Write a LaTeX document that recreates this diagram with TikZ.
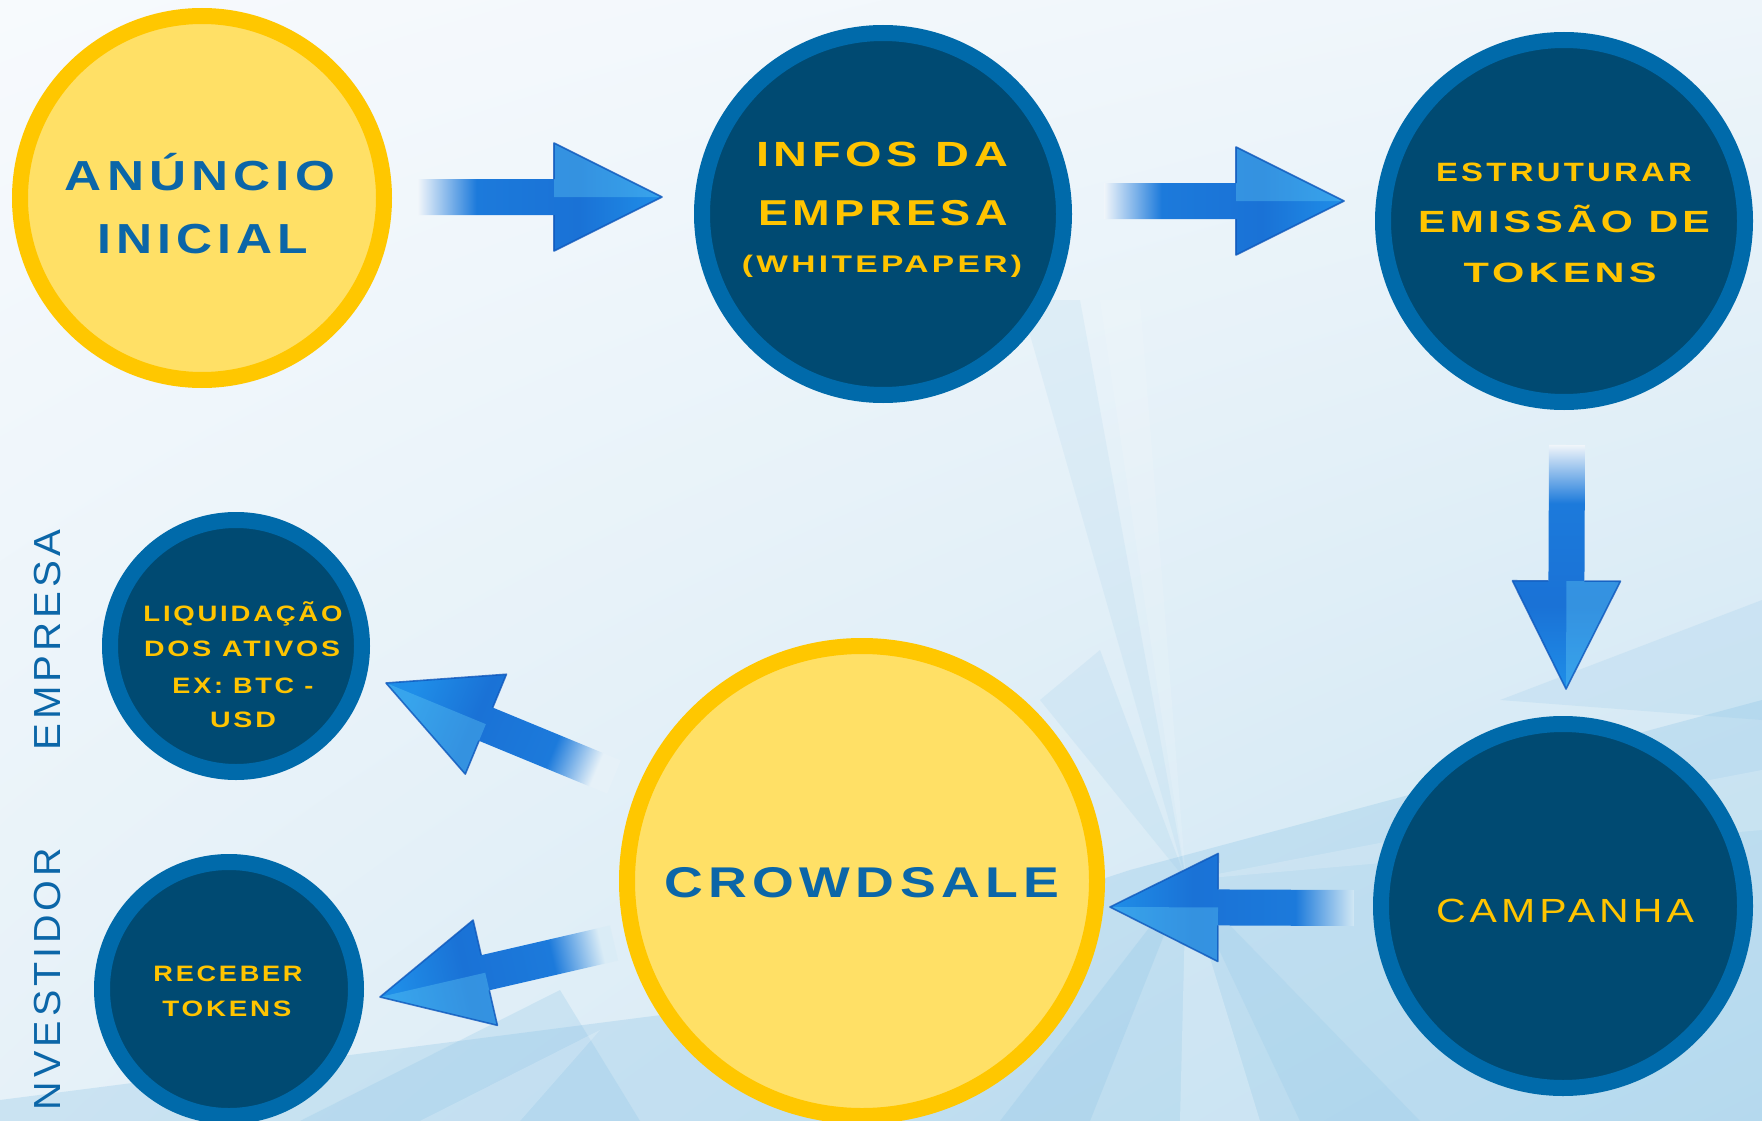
\documentclass[tikz,border=0pt]{standalone}
\usepackage{fontspec}
\usepackage{graphicx}
\usetikzlibrary{calc,shadings}
\newfontfamily\efont{Liberation Sans}[LetterSpace=10]
\definecolor{yfill}{HTML}{FFE066}
\definecolor{yborder}{HTML}{FFC700}
\definecolor{nfill}{HTML}{004A72}
\definecolor{nborder}{HTML}{006AAA}
\definecolor{ytext}{HTML}{FFC400}
\definecolor{btext}{HTML}{0B66A8}
\definecolor{arrA}{HTML}{1C7ADB}
\definecolor{arrB}{HTML}{1A72D6}
\definecolor{arrC}{HTML}{1F8EE8}
\definecolor{arrEdge}{HTML}{0F58BC}
\definecolor{bgA}{HTML}{F0F5FA}
\definecolor{bgB}{HTML}{D2E8F4}
\definecolor{bgC}{HTML}{E6F1F8}
\definecolor{bgD}{HTML}{DAECF6}
\definecolor{bgTL}{HTML}{F7FAFD}
\definecolor{bgTR}{HTML}{EEF5FA}
\definecolor{bgLo}{HTML}{C8E3F2}
\definecolor{facD}{HTML}{8CC4E6}
\colorlet{afade}{white}
\pgfdeclarehorizontalshading[afade]{arrowshade}{100bp}{color(0bp)=(afade); color(25bp)=(afade); color(37bp)=(arrA); color(58bp)=(arrB); color(75bp)=(arrC); color(100bp)=(arrC)}
\newcommand\wl[3]{\resizebox{#1pt}{\height}{\fontsize{#2pt}{#2pt}\selectfont #3}}
\begin{document}
\begin{tikzpicture}[x=1pt,y=1pt,
  ycirc/.style={circle, fill=yfill, draw=yborder, line width=16pt, inner sep=0pt, minimum size=#1},
  ncirc/.style={circle, fill=nfill, draw=nborder, line width=16pt, inner sep=0pt, minimum size=#1},
  ylab/.style={anchor=base, inner sep=0pt, text=ytext, font=\efont\bfseries},
  blab/.style={anchor=base, inner sep=0pt, text=btext, font=\efont\bfseries},
  vlab/.style={anchor=base, inner sep=0pt, text=btext, font=\efont, rotate=90},
  fatarrow/.style={to path={
    let \p1=($(\tikztotarget)-(\tikztostart)$),
        \n1={atan2(\y1,\x1)},
        \n2={veclen(\x1,\y1)-108}
    in ($(\tikztostart)+(\n1+90:18)$)
    -- ($(\tikztostart)+(\n1:\n2)+(\n1+90:18)$)
    -- ($(\tikztostart)+(\n1:\n2)+(\n1+90:54)$)
    -- (\tikztotarget)
    -- ($(\tikztostart)+(\n1:\n2)+(\n1-90:54)$)
    -- ($(\tikztostart)+(\n1:\n2)+(\n1-90:18)$)
    -- ($(\tikztostart)+(\n1-90:18)$) -- cycle}},
  headfacet/.style={to path={
    let \p1=($(\tikztotarget)-(\tikztostart)$),
        \n1={atan2(\y1,\x1)},
        \n2={veclen(\x1,\y1)-108}
    in ($(\tikztostart)+(\n1:\n2)+(\n1+90:54)$)
    -- (\tikztotarget)
    -- ($(\tikztostart)+(\n1:\n2)$) -- cycle}},
  headedge/.style={to path={
    let \p1=($(\tikztotarget)-(\tikztostart)$),
        \n1={atan2(\y1,\x1)},
        \n2={veclen(\x1,\y1)-108}
    in ($(\tikztostart)+(\n1:\n2)+(\n1+90:18)$)
    -- ($(\tikztostart)+(\n1:\n2)+(\n1+90:54)$)
    -- (\tikztotarget)
    -- ($(\tikztostart)+(\n1:\n2)+(\n1-90:54)$)
    -- ($(\tikztostart)+(\n1:\n2)+(\n1-90:18)$)}},
  arrowbody/.style 2 args={shading=arrowshade, shading angle=#1, /utils/exec={\colorlet{afade}{#2}}},
  facet/.style={fill=cyan!60!white, fill opacity=0.35},
  edgeline/.style={draw=arrEdge, line width=1.6pt, line join=round, draw opacity=0.8},
  bglight/.style={fill=white, opacity=#1},
  bgdark/.style={fill=facD, opacity=#1},
]
% background
\useasboundingbox (0,0) rectangle (1762,-1121);
\shade[upper left=bgTL, upper right=bgTR, lower left=bgC, lower right=bgLo] (0,0) rectangle (1762,-1121);
\fill[bglight=0.3] (300,0) -- (900,0) -- (1762,380) -- (1762,520) -- cycle;
\fill[bgdark=0.3] (0,-1121) -- (0,-1100) -- (700,-1010) -- (1130,-870) -- (1762,-700) -- (1762,-1121) -- cycle;
\fill[bglight=0.12] (1186,-880) -- (1100,-300) -- (1140,-300) -- cycle;
\fill[bgdark=0.12] (1186,-880) -- (1020,-300) -- (1080,-300) -- cycle;
\fill[bglight=0.25] (1186,-880) -- (1180,-1121) -- (1260,-1121) -- cycle;
\fill[bgdark=0.25] (1186,-880) -- (1000,-1121) -- (1090,-1121) -- cycle;
\fill[bglight=0.18] (1186,-880) -- (1762,-770) -- (1762,-830) -- cycle;
\fill[bgdark=0.2] (1186,-880) -- (1300,-1121) -- (1420,-1121) -- cycle;
\fill[bgdark=0.15] (1186,-880) -- (1040,-700) -- (1100,-650) -- cycle;
\fill[bgdark=0.25] (300,-1121) -- (560,-990) -- (640,-1121) -- cycle;
\fill[bglight=0.2] (420,-1121) -- (600,-1030) -- (520,-1121) -- cycle;
\fill[bgdark=0.18] (1762,-600) -- (1500,-700) -- (1762,-720) -- cycle;

% circles
\node[ycirc=364pt] (c1) at (202,-198) {};
\node[ncirc=362pt] (c2) at (883,-214) {};
\node[ncirc=362pt] (c3) at (1564,-221) {};
\node[ncirc=364pt] (c4) at (1563,-906) {};
\node[ycirc=470pt] (c5) at (862,-881) {};
\node[ncirc=252pt] (c6) at (236,-646) {};
\node[ncirc=254pt] (c7) at (229,-989) {};

% texts
\node[blab] (t1a) at (200,-190) {\wl{270}{42}{ANÚNCIO}};
\node[blab] (t1b) at (203,-253) {\wl{210}{42}{INICIAL}};
\node[ylab] (t2a) at (882,-167) {\wl{252}{35}{INFOS DA}};
\node[ylab] (t2b) at (883,-225) {\wl{250}{36}{EMPRESA}};
\node[ylab] (t2c) at (882,-272) {\wl{280}{24}{(WHITEPAPER)}};
\node[ylab] (t3a) at (1564,-181) {\wl{256}{26.5}{ESTRUTURAR}};
\node[ylab] (t3b) at (1564,-232) {\wl{292}{30.7}{EMISSÃO DE}};
\node[ylab] (t3c) at (1560,-282) {\wl{193}{28}{TOKENS}};
\node[ylab, font=\efont] (t4) at (1565,-922) {\wl{258}{33.5}{CAMPANHA}};
\node[blab] (t5) at (862,-897) {\wl{395}{43}{CROWDSALE}};
\node[ylab] (t6a) at (243,-621) {\wl{199}{22.3}{LIQUIDAÇÃO}};
\node[ylab] (t6b) at (242,-656) {\wl{196}{22.3}{DOS ATIVOS}};
\node[ylab] (t6c) at (243,-693) {\wl{141}{22.3}{EX: BTC -}};
\node[ylab] (t6d) at (243,-727) {\wl{66}{22.3}{USD}};
\node[ylab] (t7a) at (228,-981) {\wl{149}{22.3}{RECEBER}};
\node[ylab] (t7b) at (227,-1016) {\wl{129}{22.3}{TOKENS}};
\node[vlab] (v1) at (60,-640) {\wl{221}{37.7}{EMPRESA}};
\node[vlab] (v2) at (60,-979) {\wl{262}{37.7}{NVESTIDOR}};

% arrow end points
\coordinate (a1s) at (418,-197);  \coordinate (a1t) at (662,-197);
\coordinate (a2s) at (1104,-201); \coordinate (a2t) at (1344,-201);
\coordinate (a3s) at (1567,-445); \coordinate (a3t) at (1566,-689);
\coordinate (a4s) at (1354,-908); \coordinate (a4t) at (1110,-907);
\coordinate (a5s) at (614,-777);  \coordinate (a5t) at (386,-683);
\coordinate (a6s) at (614,-943);  \coordinate (a6t) at (380,-997);

% arrows
\shade[arrowbody={0}{bgA}] (a1s) to[fatarrow] (a1t);
\shade[arrowbody={0}{bgA}] (a2s) to[fatarrow] (a2t);
\shade[arrowbody={-90}{bgA}] (a3s) to[fatarrow] (a3t);
\shade[arrowbody={180}{bgB}] (a4s) to[fatarrow] (a4t);
\shade[arrowbody={157}{bgC}] (a5s) to[fatarrow] (a5t);
\shade[arrowbody={193}{bgD}] (a6s) to[fatarrow] (a6t);
\fill[facet] (a1s) to[headfacet] (a1t);
\fill[facet] (a2s) to[headfacet] (a2t);
\fill[facet] (a3s) to[headfacet] (a3t);
\fill[facet] (a4s) to[headfacet] (a4t);
\fill[facet] (a5s) to[headfacet] (a5t);
\fill[facet] (a6s) to[headfacet] (a6t);
\path[edgeline] (a1s) to[headedge] (a1t);
\path[edgeline] (a2s) to[headedge] (a2t);
\path[edgeline] (a3s) to[headedge] (a3t);
\path[edgeline] (a4s) to[headedge] (a4t);
\path[edgeline] (a5s) to[headedge] (a5t);
\path[edgeline] (a6s) to[headedge] (a6t);
\end{tikzpicture}
\end{document}
